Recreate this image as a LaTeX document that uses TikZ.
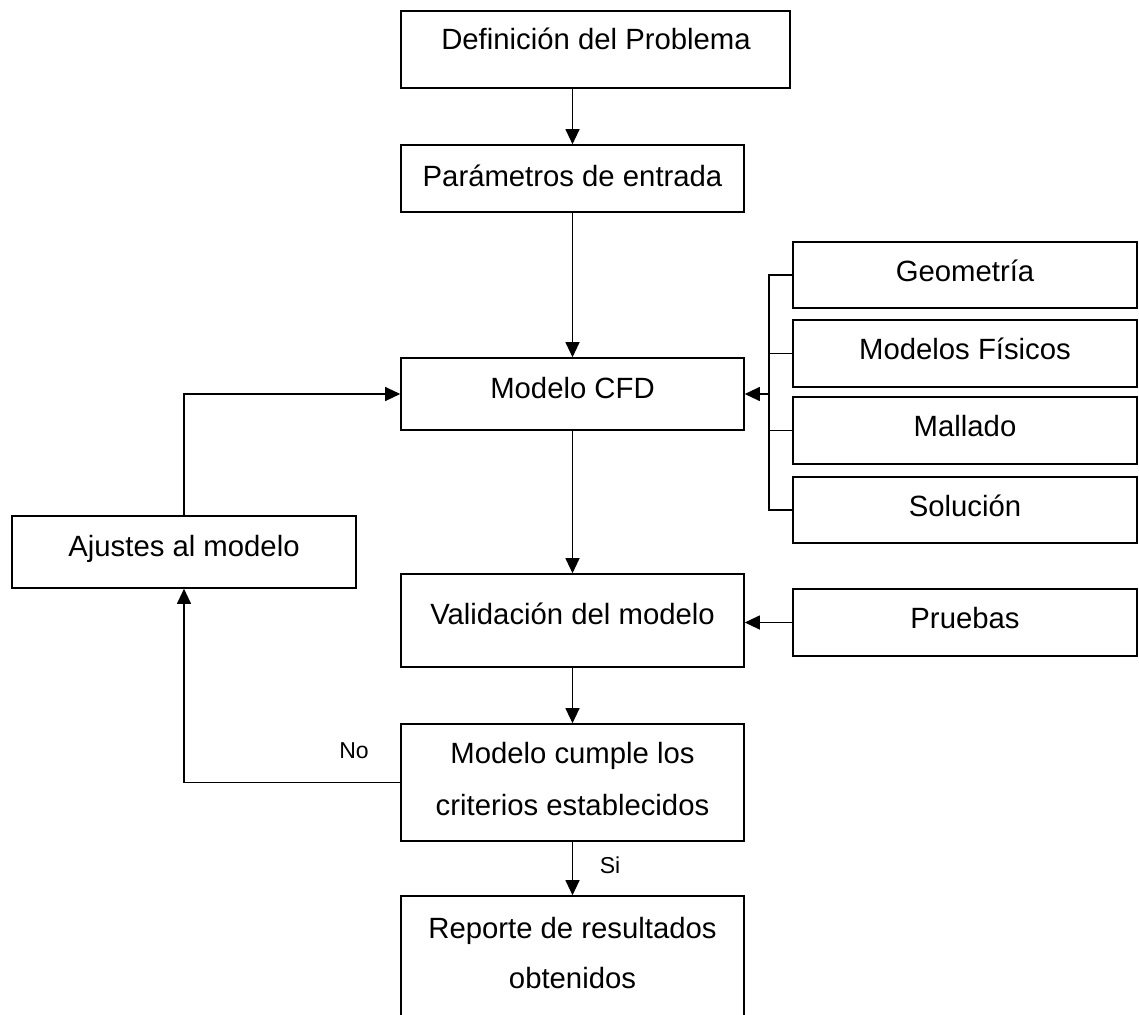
\documentclass[tikz,border=0pt]{standalone}
\usepackage{fontspec}
\setmainfont{Liberation Sans}
\usetikzlibrary{arrows.meta}
\begin{document}
\begin{tikzpicture}[x=1pt,y=-1pt,
  box/.style={draw=black, line width=1.6pt, rectangle, inner sep=0pt, minimum width=343pt},
  txt/.style={font=\fontsize{29.3}{34}\selectfont, inner sep=0pt, text height=21pt, text depth=0pt, anchor=center},
  lbl/.style={font=\fontsize{23}{28}\selectfont, inner sep=0pt, text height=16.5pt, text depth=0pt, anchor=center},
  conn/.style={line width=1.1pt, draw=black},
  arr/.style={conn, -{Triangle[length=15pt,width=14pt]}}]
\useasboundingbox (0,0) rectangle (1139,1014);
\clip (0,0) rectangle (1139,1014);
% boxes
\node[box, minimum width=389pt, minimum height=77pt] (def) at (595.5,49.5) {};
\node[txt] (deft) at (596,39) {Definición del Problema};
\node[box, minimum height=67pt] (par) at (572.5,178.5) {};
\node[txt] (part) at (572.5,176) {Parámetros de entrada};
\node[box, minimum height=72pt] (cfd) at (572.5,394) {};
\node[txt] (cfdt) at (572.5,388) {Modelo CFD};
\node[box, minimum width=344pt, minimum height=66pt] (geo) at (965,275) {};
\node[txt] (geot) at (965,271) {Geometría};
\node[box, minimum width=344pt, minimum height=67pt] (fis) at (965,353.5) {};
\node[txt] (fist) at (965,349) {Modelos Físicos};
\node[box, minimum width=344pt, minimum height=67pt] (mal) at (965,430.5) {};
\node[txt] (malt) at (965,426) {Mallado};
\node[box, minimum width=344pt, minimum height=66pt] (sol) at (965,510) {};
\node[txt] (solt) at (965,506) {Solución};
\node[box, minimum width=344pt, minimum height=72pt] (aju) at (184,552) {};
\node[txt] (ajut) at (184,546) {Ajustes al modelo};
\node[box, minimum height=93pt] (val) at (572.5,620.5) {};
\node[txt] (valt) at (572.5,614) {Validación del modelo};
\node[box, minimum width=344pt, minimum height=67pt] (pru) at (965,622.5) {};
\node[txt] (prut) at (965,618) {Pruebas};
\node[box, minimum height=117pt] (cum) at (572.5,782.5) {};
\node[txt] (cumt1) at (572.5,753) {Modelo cumple los};
\node[txt] (cumt2) at (572.5,805) {criterios establecidos};
\node[box, minimum height=154pt] (rep) at (572.5,973) {};
\node[txt] (rept1) at (572.5,927.5) {Reporte de resultados};
\node[txt] (rept2) at (572.5,978) {obtenidos};
% labels
\node[lbl] (no) at (354,750) {No};
\node[lbl] (si) at (610,865) {Si};
% connectors
\coordinate (brk) at (769,394);
\draw[arr] (def.south -| par.north) -- (par.north);
\draw[arr] (par.south) -- (cfd.north);
\draw[arr] (cfd.south) -- (val.north);
\draw[arr] (val.south) -- (cum.north);
\draw[arr] (cum.south) -- (rep.north);
\draw[arr] (pru.west) -- (pru.west -| val.east);
\draw[arr] (cum.west) -| (aju.south);
\draw[arr] (aju.north) |- (cfd.west);
% bracket
\draw[conn] (geo.west) -| (brk |- sol.west) -- (sol.west);
\draw[conn] (fis.west) -- (fis.west -| brk);
\draw[conn] (mal.west) -- (mal.west -| brk);
\draw[arr] (brk) -- (cfd.east);
\end{tikzpicture}
\end{document}
